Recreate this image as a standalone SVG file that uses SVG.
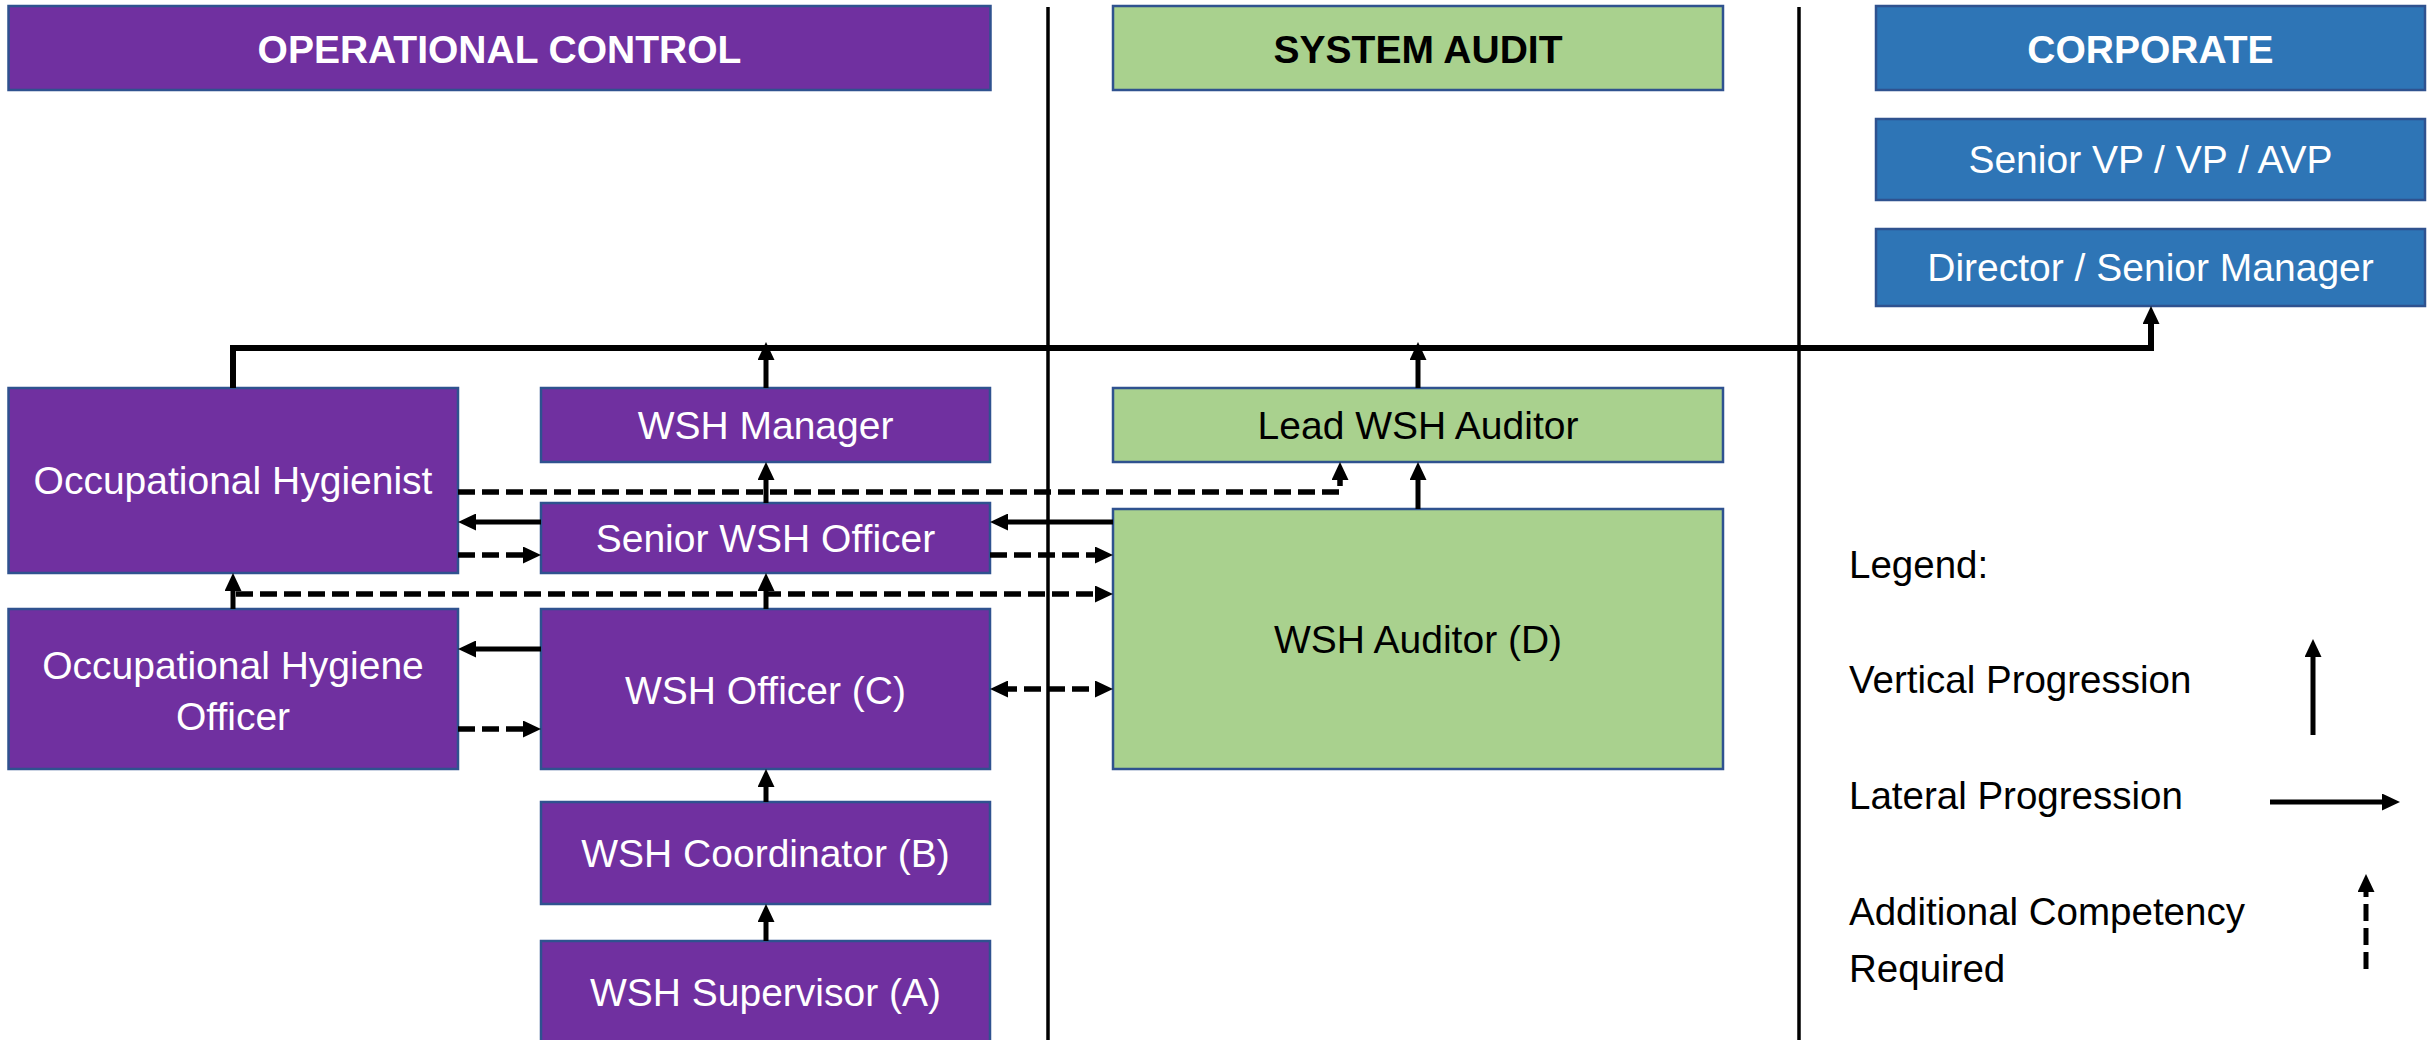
<svg xmlns="http://www.w3.org/2000/svg" width="2430" height="1040" viewBox="0 0 2430 1040">
<defs>
<marker id="ah" viewBox="0 0 18 17" markerWidth="18" markerHeight="17" refX="8" refY="8.5" orient="auto-start-reverse" markerUnits="userSpaceOnUse">
<path d="M0,0 L18,8.5 L0,17 z" fill="#000"/>
</marker>
<style>
.box{stroke:#2F528F;stroke-width:2.5}
.p{fill:#7030A0}
.g{fill:#A9D18E}
.b{fill:#2E75B6}
.t{font-family:"Liberation Sans",Arial,sans-serif;font-size:39px;text-anchor:middle}
.w{fill:#fff}
.k{fill:#000}
.hd{font-weight:bold}
.lg{font-family:"Liberation Sans",Arial,sans-serif;font-size:38.5px;fill:#000}
.div{stroke:#000;stroke-width:3.5;fill:none}
.solid{stroke:#000;stroke-width:5;fill:none}
.dash{stroke:#000;stroke-width:5.5;fill:none;stroke-dasharray:17 7}
.thick{stroke:#000;stroke-width:6;fill:none}
</style>
</defs>
<rect width="2430" height="1040" fill="#fff"/>

<g id="dividers">
<line class="div" x1="1048" y1="7" x2="1048" y2="1040"/>
<line class="div" x1="1799" y1="7" x2="1799" y2="1040"/>
</g>

<g id="hdr-operational">
<rect class="box p" x="8.5" y="6" width="982" height="84"/>
<text class="t w hd" x="499.5" y="63">OPERATIONAL CONTROL</text>
</g>
<g id="hdr-system-audit">
<rect class="box g" x="1113" y="6" width="610" height="84"/>
<text class="t k hd" x="1418" y="63">SYSTEM AUDIT</text>
</g>
<g id="hdr-corporate">
<rect class="box b" x="1876" y="6" width="549" height="84"/>
<text class="t w hd" x="2150.5" y="63">CORPORATE</text>
</g>
<g id="senior-vp">
<rect class="box b" x="1876" y="119" width="549" height="81"/>
<text class="t w" x="2150.5" y="173">Senior VP / VP / AVP</text>
</g>
<g id="director">
<rect class="box b" x="1876" y="229" width="549" height="77"/>
<text class="t w" x="2150.5" y="281">Director / Senior Manager</text>
</g>

<g id="occ-hygienist">
<rect class="box p" x="8.5" y="388" width="449.5" height="185"/>
<text class="t w" x="233" y="494">Occupational Hygienist</text>
</g>
<g id="wsh-manager">
<rect class="box p" x="541" y="388" width="449" height="74"/>
<text class="t w" x="765.5" y="439">WSH Manager</text>
</g>
<g id="senior-wsh-officer">
<rect class="box p" x="541" y="503" width="449" height="70"/>
<text class="t w" x="765.5" y="552">Senior WSH Officer</text>
</g>
<g id="occ-hygiene-officer">
<rect class="box p" x="8.5" y="609" width="449.5" height="160"/>
<text class="t w" x="233" y="679">Occupational Hygiene</text>
<text class="t w" x="233" y="730">Officer</text>
</g>
<g id="wsh-officer">
<rect class="box p" x="541" y="609" width="449" height="160"/>
<text class="t w" x="765.5" y="704">WSH Officer (C)</text>
</g>
<g id="wsh-coordinator">
<rect class="box p" x="541" y="802" width="449" height="102"/>
<text class="t w" x="765.5" y="867">WSH Coordinator (B)</text>
</g>
<g id="wsh-supervisor">
<rect class="box p" x="541" y="941" width="449" height="106"/>
<text class="t w" x="765.5" y="1006">WSH Supervisor (A)</text>
</g>
<g id="lead-wsh-auditor">
<rect class="box g" x="1113" y="388" width="610" height="74"/>
<text class="t k" x="1418" y="439">Lead WSH Auditor</text>
</g>
<g id="wsh-auditor">
<rect class="box g" x="1113" y="509" width="610" height="260"/>
<text class="t k" x="1418" y="653">WSH Auditor (D)</text>
</g>

<g id="connectors">
<path class="thick" d="M233,388 V348 H2151 V316" marker-end="url(#ah)"/>
<path class="solid" d="M766,388 V352" marker-end="url(#ah)"/>
<path class="solid" d="M1418,388 V352" marker-end="url(#ah)"/>
<path class="solid" d="M766,503 V472" marker-end="url(#ah)"/>
<path class="solid" d="M766,609 V583" marker-end="url(#ah)"/>
<path class="solid" d="M766,802 V779" marker-end="url(#ah)"/>
<path class="solid" d="M766,941 V914" marker-end="url(#ah)"/>
<path class="solid" d="M233,609 V583" marker-end="url(#ah)"/>
<path class="solid" d="M1418,509 V472" marker-end="url(#ah)"/>
<path class="solid" d="M541,522 H468" marker-end="url(#ah)"/>
<path class="solid" d="M541,649 H468" marker-end="url(#ah)"/>
<path class="solid" d="M1113,522 H1000" marker-end="url(#ah)"/>
<path class="dash" d="M458,492 H1340 V472" marker-end="url(#ah)"/>
<path class="dash" d="M458,555 H531" marker-end="url(#ah)"/>
<path class="dash" d="M990,555 H1103" marker-end="url(#ah)"/>
<path class="dash" d="M458,729 H531" marker-end="url(#ah)"/>
<path class="dash" d="M1000,689 H1103" marker-start="url(#ah)" marker-end="url(#ah)"/>
<path class="dash" d="M236,594 H1103" marker-end="url(#ah)"/>
</g>

<g id="legend">
<text class="lg" x="1849" y="578">Legend:</text>
<text class="lg" x="1849" y="693">Vertical Progression</text>
<text class="lg" x="1849" y="809">Lateral Progression</text>
<text class="lg" x="1849" y="925">Additional Competency</text>
<text class="lg" x="1849" y="982">Required</text>
<path class="solid" d="M2313,735 V649" marker-end="url(#ah)"/>
<path class="solid" d="M2270,802 H2390" marker-end="url(#ah)"/>
<path class="dash" style="stroke-width:5" d="M2366,969 V884" marker-end="url(#ah)"/>
</g>
</svg>
